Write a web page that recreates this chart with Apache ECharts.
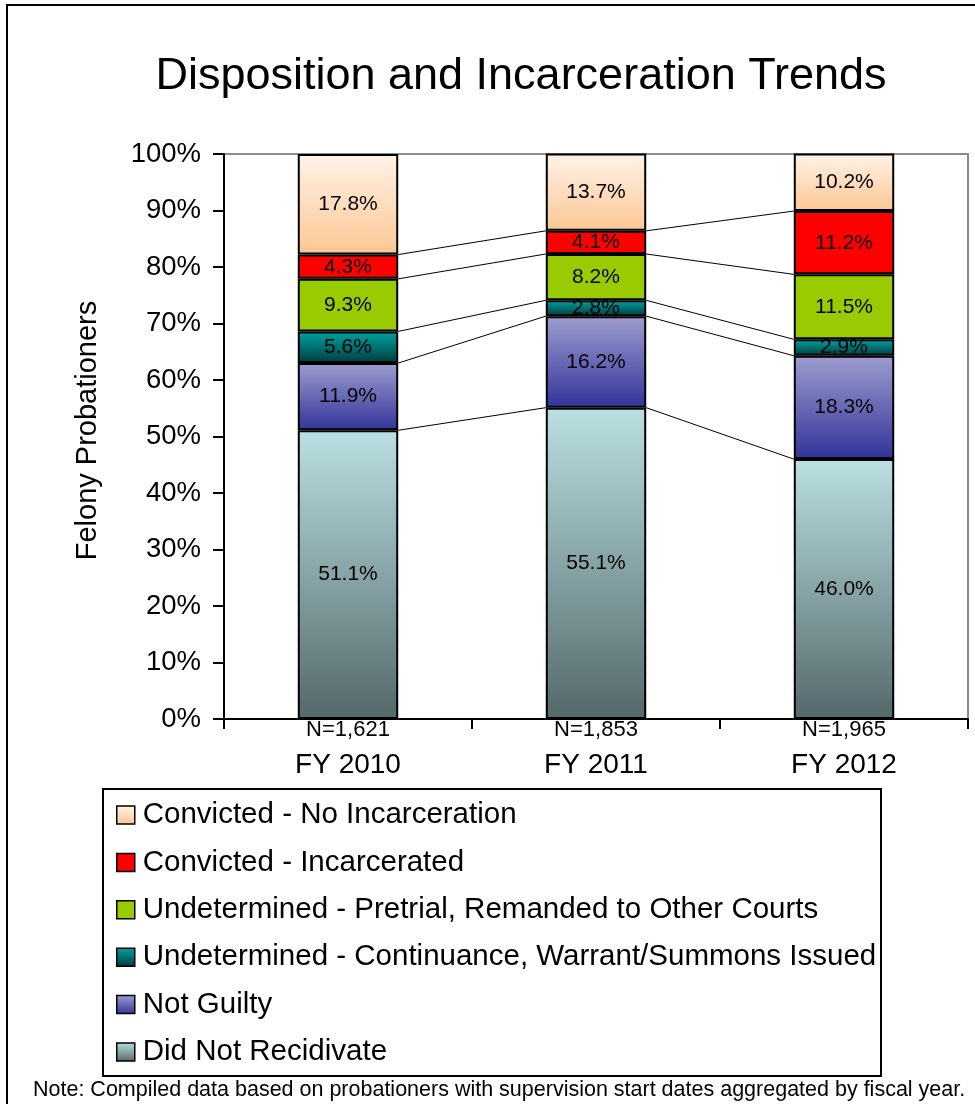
<!DOCTYPE html>
<html>
<head>
<meta charset="utf-8">
<script src="https://cdn.jsdelivr.net/npm/echarts@6/dist/echarts.min.js"></script>
<style>
html,body{margin:0;padding:0;background:#fff;}
#chart{width:975px;height:1104px;}
</style>
</head>
<body>
<div id="chart"></div>
<script>
const categories = ['FY 2010', 'FY 2011', 'FY 2012'];
const nLabels = ['N=1,621', 'N=1,853', 'N=1,965'];
const didNotRecidivate = [51.1, 55.1, 46.0];
const notGuilty = [11.9, 16.2, 18.3];
const continuance = [5.6, 2.8, 2.9];
const pretrial = [9.3, 8.2, 11.5];
const incarcerated = [4.3, 4.1, 11.2];
const noIncarceration = [17.8, 13.7, 10.2];
const seriesNames = [
  'Did Not Recidivate',
  'Not Guilty',
  'Undetermined - Continuance, Warrant/Summons Issued',
  'Undetermined - Pretrial, Remanded to Other Courts',
  'Convicted - Incarcerated',
  'Convicted - No Incarceration'
];
const titleText = 'Disposition and Incarceration Trends';
const yAxisName = 'Felony Probationers';
const noteText = 'Note: Compiled data based on probationers with supervision start dates aggregated by fiscal year.';

const FONT = '"Liberation Sans", Arial, Helvetica, sans-serif';
function grad(top, bottom) {
  return new echarts.graphic.LinearGradient(0, 0, 0, 1, [
    { offset: 0, color: top }, { offset: 1, color: bottom }
  ]);
}
const fills = [
  grad('#b9e0e2', '#55686a'),
  grad('#9d9dd0', '#333399'),
  grad('#00a3a3', '#003c3c'),
  '#99cc00',
  '#ff0000',
  grad('#fff3e8', '#fcc693')
];
const valueSets = [didNotRecidivate, notGuilty, continuance, pretrial, incarcerated, noIncarceration];

// cumulative tops for series lines
const cum = [];
let running = categories.map(() => 0);
valueSets.forEach(vs => {
  running = running.map((r, i) => r + vs[i]);
  cum.push(running.slice());
});
const lineData = [];
for (let k = 0; k < valueSets.length - 1; k++) {
  for (let i = 0; i < categories.length - 1; i++) {
    lineData.push([i, cum[k][i], cum[k][i + 1]]);
  }
}

const barSeries = valueSets.map((vs, k) => ({
  name: seriesNames[k],
  type: 'bar',
  stack: 'total',
  barWidth: '40.5%',
  data: vs,
  itemStyle: { color: fills[k], borderColor: '#000', borderWidth: 2 },
  label: {
    show: true, position: 'inside', color: '#000', fontSize: 21, fontFamily: FONT,
    formatter: p => p.value.toFixed(1) + '%'
  },
  emphasis: { disabled: true }
}));

const chart = echarts.init(document.getElementById('chart'), null, { renderer: 'canvas' });
chart.setOption({
  animation: false,
  backgroundColor: '#fff',
  textStyle: { fontFamily: FONT },
  grid: { left: 224, right: 7, top: 154, bottom: 385, show: true, borderColor: '#8c8c8c', borderWidth: 2 },
  legend: {
    orient: 'vertical',
    left: 116, top: 800,
    padding: 0,
    itemGap: 17.4,
    itemWidth: 18, itemHeight: 18,
    icon: 'rect',
    itemStyle: { borderColor: '#000', borderWidth: 1.5 },
    textStyle: { fontSize: 29.5, color: '#000', fontFamily: FONT, lineHeight: 30, padding: [0, 0, 0, 3] },
    data: seriesNames.slice().reverse(),
    selectedMode: false
  },
  xAxis: {
    type: 'category',
    data: categories,
    axisLine: { lineStyle: { color: '#000', width: 2 } },
    axisTick: { show: true, length: 10, lineStyle: { color: '#000', width: 2 } },
    axisLabel: {
      interval: 0, margin: 0, color: '#000',
      formatter: (v, idx) => '{n|' + nLabels[idx] + '}\n{fy|' + v + '}',
      rich: {
        n: { fontSize: 22, lineHeight: 22, color: '#000', fontFamily: FONT },
        fy: { fontSize: 28, lineHeight: 48, color: '#000', fontFamily: FONT }
      }
    },
    z: 5
  },
  yAxis: {
    type: 'value',
    min: 0, max: 100, interval: 10,
    name: yAxisName,
    nameLocation: 'middle',
    nameGap: 122,
    nameTextStyle: { fontSize: 29, color: '#000', fontFamily: FONT, padding: [0, 0, 0, 12] },
    axisLine: { show: true, lineStyle: { color: '#000', width: 2 } },
    axisTick: { show: true, length: 11, lineStyle: { color: '#000', width: 2 } },
    axisLabel: { fontSize: 27.5, color: '#000', margin: 23, formatter: '{value}%', fontFamily: FONT },
    splitLine: { show: false }
  },
  series: barSeries.concat([{
    name: 'seriesLines',
    type: 'custom',
    silent: true,
    z: 1,
    data: lineData,
    encode: { x: 0, y: [1, 2] },
    renderItem: (params, api) => {
      const i = api.value(0);
      const half = api.size([1, 0])[0] * 0.2025;
      const p1 = api.coord([i, api.value(1)]);
      const p2 = api.coord([i + 1, api.value(2)]);
      return {
        type: 'line',
        shape: { x1: p1[0] + half, y1: p1[1], x2: p2[0] - half, y2: p2[1] },
        style: { stroke: '#000', lineWidth: 1 }
      };
    }
  }]),
  graphic: [
    { type: 'rect', shape: { x: 7, y: 5, width: 1100, height: 1200 }, style: { fill: 'none', stroke: '#000', lineWidth: 2 }, silent: true },
    { type: 'rect', shape: { x: 103, y: 789, width: 778, height: 287 }, style: { fill: 'none', stroke: '#000', lineWidth: 2 }, silent: true },
    { type: 'text', x: 521, y: 77, style: { text: titleText, fontSize: 45, fill: '#000', fontFamily: FONT, textAlign: 'center', textVerticalAlign: 'middle' } },
    { type: 'text', x: 33, y: 1090, style: { text: noteText, fontSize: 21.5, fill: '#000', fontFamily: FONT, textAlign: 'left', textVerticalAlign: 'middle' } }
  ]
});
</script>
</body>
</html>
